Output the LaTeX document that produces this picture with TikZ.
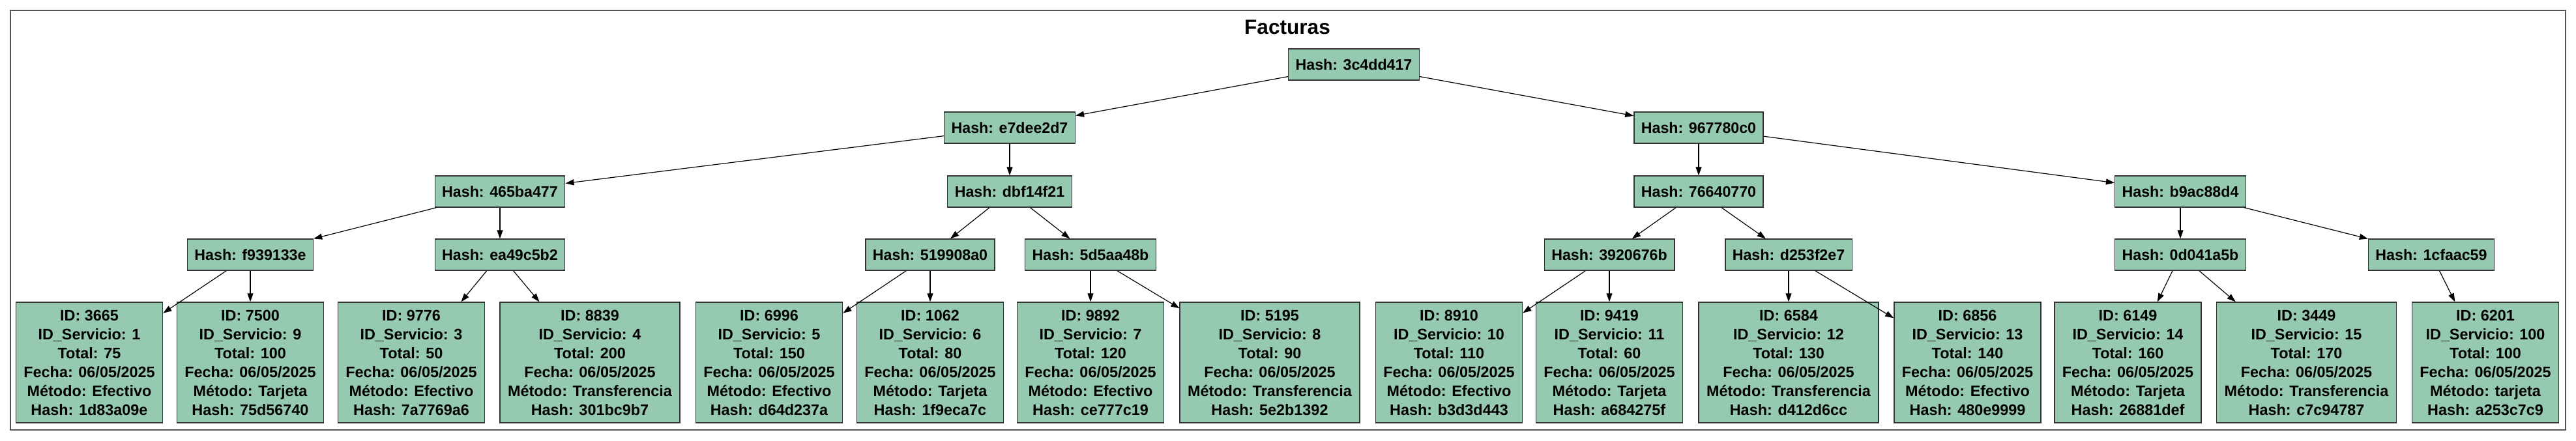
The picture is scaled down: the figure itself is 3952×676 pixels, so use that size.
\documentclass[tikz,border=0pt]{standalone}
\usepackage{fontspec}
\setmainfont{Liberation Sans}
\usepackage{tikz}
\usetikzlibrary{arrows.meta}

\definecolor{nodegreen}{RGB}{150,202,176}
\definecolor{framegray}{RGB}{85,85,85}

\begin{document}
\begin{tikzpicture}[x=0.5pt, y=-0.5pt,
    hashbox/.style={draw=black!80, fill=nodegreen, line width=0.7pt, inner xsep=5.5pt, inner ysep=0pt, minimum height=24pt, font=\bfseries\fontsize{11.6}{14.5}\selectfont},
    leafbox/.style={draw=black!80, fill=nodegreen, line width=0.7pt, inner xsep=6pt, inner ysep=0pt, minimum width=111pt, minimum height=92.5pt, align=center, font=\bfseries\fontsize{11.7}{14.5}\selectfont},
    edgearrow/.style={draw, line width=0.6pt, -{Triangle[length=6.5pt, width=4.5pt]}}]

    \useasboundingbox (0,0) rectangle (3952,676);

    \path[draw=framegray, line width=1pt] (16,16) rectangle (3936,660);
    \node[font=\bfseries\fontsize{15.8}{19}\selectfont] (title) at (1975,42) {Facturas};

    % inner nodes
    \node[hashbox] (root) at (2077,99) {Hash: 3c4dd417};
    \node[hashbox] (n1) at (1549,196) {Hash: e7dee2d7};
    \node[hashbox] (n2) at (2606,196) {Hash: 967780c0};
    \node[hashbox] (n11) at (767,294) {Hash: 465ba477};
    \node[hashbox] (n12) at (1549,294) {Hash: dbf14f21};
    \node[hashbox] (n21) at (2606,294) {Hash: 76640770};
    \node[hashbox] (n22) at (3345,294) {Hash: b9ac88d4};
    \node[hashbox] (n111) at (384,391) {Hash: f939133e};
    \node[hashbox] (n112) at (767,391) {Hash: ea49c5b2};
    \node[hashbox] (n121) at (1427,391) {Hash: 519908a0};
    \node[hashbox] (n122) at (1673,391) {Hash: 5d5aa48b};
    \node[hashbox] (n211) at (2469,391) {Hash: 3920676b};
    \node[hashbox] (n212) at (2744,391) {Hash: d253f2e7};
    \node[hashbox] (n221) at (3345,391) {Hash: 0d041a5b};
    \node[hashbox] (n222) at (3730,391) {Hash: 1cfaac59};

    % facturas
    \node[leafbox] (f1) at (137,556.5) {ID: 3665\\ID\_Servicio: 1\\Total: 75\\Fecha: 06/05/2025\\Método: Efectivo\\Hash: 1d83a09e};
    \node[leafbox] (f2) at (384,556.5) {ID: 7500\\ID\_Servicio: 9\\Total: 100\\Fecha: 06/05/2025\\Método: Tarjeta\\Hash: 75d56740};
    \node[leafbox] (f3) at (631,556.5) {ID: 9776\\ID\_Servicio: 3\\Total: 50\\Fecha: 06/05/2025\\Método: Efectivo\\Hash: 7a7769a6};
    \node[leafbox] (f4) at (905,556.5) {ID: 8839\\ID\_Servicio: 4\\Total: 200\\Fecha: 06/05/2025\\Método: Transferencia\\Hash: 301bc9b7};
    \node[leafbox] (f5) at (1180,556.5) {ID: 6996\\ID\_Servicio: 5\\Total: 150\\Fecha: 06/05/2025\\Método: Efectivo\\Hash: d64d237a};
    \node[leafbox] (f6) at (1427,556.5) {ID: 1062\\ID\_Servicio: 6\\Total: 80\\Fecha: 06/05/2025\\Método: Tarjeta\\Hash: 1f9eca7c};
    \node[leafbox] (f7) at (1673,556.5) {ID: 9892\\ID\_Servicio: 7\\Total: 120\\Fecha: 06/05/2025\\Método: Efectivo\\Hash: ce777c19};
    \node[leafbox] (f8) at (1948,556.5) {ID: 5195\\ID\_Servicio: 8\\Total: 90\\Fecha: 06/05/2025\\Método: Transferencia\\Hash: 5e2b1392};
    \node[leafbox] (f9) at (2223,556.5) {ID: 8910\\ID\_Servicio: 10\\Total: 110\\Fecha: 06/05/2025\\Método: Efectivo\\Hash: b3d3d443};
    \node[leafbox] (f10) at (2469,556.5) {ID: 9419\\ID\_Servicio: 11\\Total: 60\\Fecha: 06/05/2025\\Método: Tarjeta\\Hash: a684275f};
    \node[leafbox] (f11) at (2744,556.5) {ID: 6584\\ID\_Servicio: 12\\Total: 130\\Fecha: 06/05/2025\\Método: Transferencia\\Hash: d412d6cc};
    \node[leafbox] (f12) at (3018.5,556.5) {ID: 6856\\ID\_Servicio: 13\\Total: 140\\Fecha: 06/05/2025\\Método: Efectivo\\Hash: 480e9999};
    \node[leafbox] (f13) at (3264.5,556.5) {ID: 6149\\ID\_Servicio: 14\\Total: 160\\Fecha: 06/05/2025\\Método: Tarjeta\\Hash: 26881def};
    \node[leafbox] (f14) at (3538.5,556.5) {ID: 3449\\ID\_Servicio: 15\\Total: 170\\Fecha: 06/05/2025\\Método: Transferencia\\Hash: c7c94787};
    \node[leafbox] (f15) at (3813,556.5) {ID: 6201\\ID\_Servicio: 100\\Total: 100\\Fecha: 06/05/2025\\Método: tarjeta\\Hash: a253c7c9};

    \path[edgearrow] (root) -- (n1);
    \path[edgearrow] (root) -- (n2);
    \path[edgearrow] (n1) -- (n11);
    \path[edgearrow] (n1) -- (n12);
    \path[edgearrow] (n2) -- (n21);
    \path[edgearrow] (n2) -- (n22);
    \path[edgearrow] (n11) -- (n111);
    \path[edgearrow] (n11) -- (n112);
    \path[edgearrow] (n12) -- (n121);
    \path[edgearrow] (n12) -- (n122);
    \path[edgearrow] (n21) -- (n211);
    \path[edgearrow] (n21) -- (n212);
    \path[edgearrow] (n22) -- (n221);
    \path[edgearrow] (n22) -- (n222);

    \path[edgearrow] (n111) -- (f1);
    \path[edgearrow] (n111) -- (f2);
    \path[edgearrow] (n112) -- (f3);
    \path[edgearrow] (n112) -- (f4);
    \path[edgearrow] (n121) -- (f5);
    \path[edgearrow] (n121) -- (f6);
    \path[edgearrow] (n122) -- (f7);
    \path[edgearrow] (n122) -- (f8);
    \path[edgearrow] (n211) -- (f9);
    \path[edgearrow] (n211) -- (f10);
    \path[edgearrow] (n212) -- (f11);
    \path[edgearrow] (n212) -- (f12);
    \path[edgearrow] (n221) -- (f13);
    \path[edgearrow] (n221) -- (f14);
    \path[edgearrow] (n222) -- (f15);

\end{tikzpicture}
\end{document}
